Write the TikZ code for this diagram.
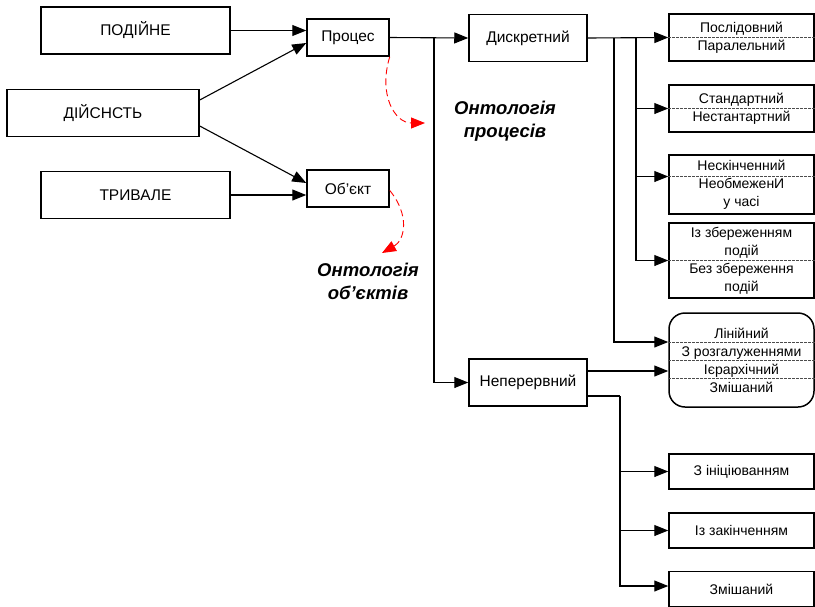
\documentclass[tikz,border=0pt]{standalone}
\usepackage{fontspec}
\setmainfont{Liberation Sans}
\usetikzlibrary{arrows.meta}
\begin{document}
\begin{tikzpicture}[x=1pt, y=-1pt,
    big/.style = {draw, line width=1.5pt, minimum width=189pt, minimum height=47pt, font=\fontsize{15.5}{18}\selectfont},
    mid/.style = {draw, line width=1.5pt, minimum width=82pt, minimum height=37pt, font=\fontsize{15.5}{18}\selectfont},
    kind/.style = {draw, line width=1.5pt, minimum width=118pt, minimum height=47pt, font=\fontsize{15.5}{18}\selectfont},
    leaf/.style = {draw, line width=1.5pt, minimum width=145pt, inner sep=0pt, align=center, font=\fontsize{14}{18}\selectfont},
    onto/.style = {align=center, font=\fontsize{18.5}{23}\selectfont\bfseries\itshape},
    arr/.style = {line width=1.1pt, -{Triangle[length=14pt,width=11pt]}},
    sep/.style = {dash pattern=on 2.5pt off 1.5pt, line width=0.6pt, black!70},
    redarr/.style = {red, dash pattern=on 7pt off 4pt, line width=0.9pt, -{Triangle[length=14pt,width=11pt]}}]
    \useasboundingbox (0,0) rectangle (815,606);
    \node[big] (podiyne) at (135.5,30.5) {ПОДІЙНЕ};
    \node[big, minimum width=192pt] (diysnist) at (103,113) {ДІЙСНСТЬ};
    \node[big] (tryvale) at (135.5,195) {ТРИВАЛЕ};
    \node[mid] (proces) at (348,37.5) {Процес};
    \node[mid] (obiekt) at (348,188.5) {Об’єкт};
    \node[kind] (dyskr) at (528,38) {Дискретний};
    \node[kind] (neper) at (528,382.5) {Неперервний};
    \node[leaf, minimum height=47pt] (posl) at (741.5,37.5) {Послідовний\\Паралельний};
    \node[leaf, minimum height=47pt] (stand) at (741.5,108.5) {Стандартний\\Нестантартний};
    \node[leaf, minimum height=59pt] (nesk) at (741.5,184.5) {Нескінченний\\НеобмеженИ\\у часі};
    \node[leaf, minimum height=75pt] (zber) at (741.5,260.5) {Із збереженням\\подій\\Без збереження\\подій};
    \node[leaf, minimum height=94pt, rounded corners=16pt] (linear) at (741.5,360) {Лінійний\\З розгалуженнями\\Ієрархічний\\Змішаний};
    \node[leaf, minimum height=35pt] (inic) at (741.5,471.5) {З ініціюванням};
    \node[leaf, minimum height=35pt] (zakin) at (741.5,530.5) {Із закінченням};
    \node[leaf, minimum height=35pt] (zmish) at (741.5,589) {Змішаний};
    \node[onto] (ontproc) at (505,121) {Онтологія\\процесів};
    \node[onto] (ontobj) at (368,281) {Онтологія\\об’єктів};
    \coordinate (t1) at (434,38);
    \coordinate (b1) at (614,38);
    \coordinate (b2) at (636,38);
    \coordinate (b3) at (620,396);
    \coordinate (tip1) at (425,123);
    \coordinate (tip2) at (382,253);
    \draw[arr] (podiyne.east) -- (podiyne.east -| proces.west);
    \draw[arr] ([yshift=13pt]diysnist.east) -- ([yshift=-5.5pt]proces.west);
    \draw[arr] ([yshift=-13pt]diysnist.east) -- ([yshift=5.5pt]obiekt.west);
    \draw[arr] (tryvale.east) -- (tryvale.east -| obiekt.west);
    \draw[arr] (proces.east) -- (dyskr.west);
    \draw[arr] (t1) |- (neper.west);
    \draw[arr] (dyskr.east) -- (posl.west);
    \draw[arr] (b2) |- (stand.west);
    \draw[arr] (b2) |- ([yshift=8pt]nesk.west);
    \draw[arr] (b2) |- (zber.west);
    \draw[arr] (b1) |- ([yshift=18pt]linear.west);
    \draw[arr] ([yshift=11.5pt]neper.east) -- ([yshift=11.5pt]neper.east -| linear.west);
    \draw[line width=1.1pt] ([yshift=-13.5pt]neper.east) -- (b3);
    \foreach \n in {inic, zakin} \draw[arr] (b3) |- (\n.west);
    \draw[arr] (b3) |- ([yshift=3pt]zmish.west);
    \draw[sep] (posl.west) -- (posl.east);
    \draw[sep] (stand.west) -- (stand.east);
    \draw[sep] ([yshift=8pt]nesk.west) -- ([yshift=8pt]nesk.east);
    \draw[sep] (zber.west) -- (zber.east);
    \foreach \s in {18, 0, -18} \draw[sep] ([yshift=\s pt]linear.west) -- ([yshift=\s pt]linear.east);
    \draw[redarr] (proces.south east) .. controls (378,95) and (395,123) .. (tip1);
    \draw[redarr] ([yshift=-2pt]obiekt.east) .. controls (410,215) and (405,240) .. (tip2);
\end{tikzpicture}
\end{document}
